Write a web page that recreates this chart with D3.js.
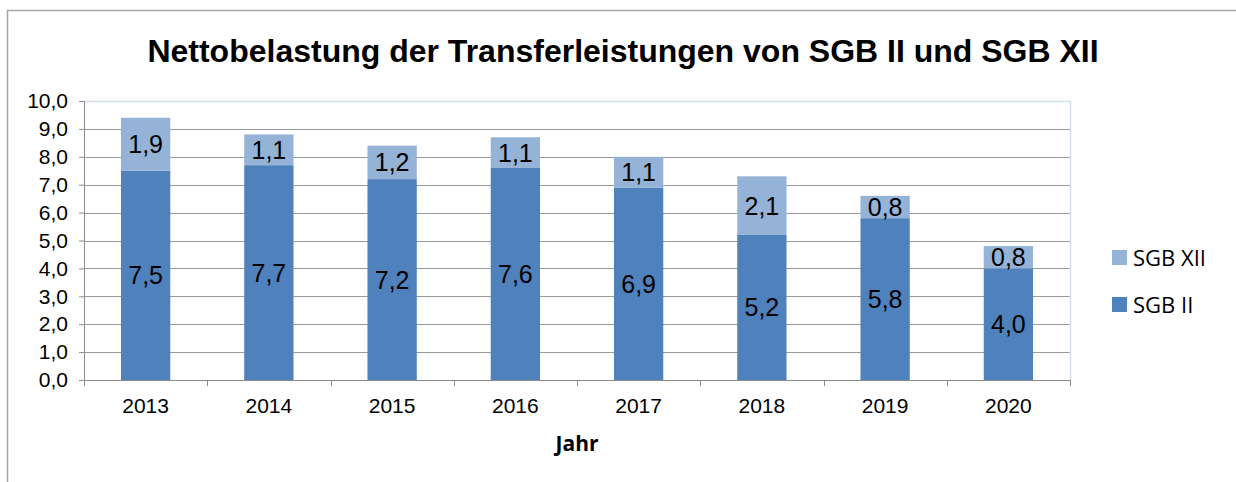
<!DOCTYPE html>
<html>
<head>
<meta charset="utf-8">
<script src="https://cdn.jsdelivr.net/npm/d3@7"></script>
<style>
  body { margin: 0; background: #fff; }
  text { font-family: "Liberation Sans", Arial, sans-serif; }
</style>
</head>
<body>
<div id="chart"></div>
<script>
// chart data
var years = ["2013", "2014", "2015", "2016", "2017", "2018", "2019", "2020"];
var sgbII = [7.5, 7.7, 7.2, 7.6, 6.9, 5.2, 5.8, 4.0];
var sgbXII = [1.9, 1.1, 1.2, 1.1, 1.1, 2.1, 0.8, 0.8];
var seriesNames = ["SGB II", "SGB XII"];
var yTicks = [0, 1, 2, 3, 4, 5, 6, 7, 8, 9, 10];

var svgWidth = 1236;
var svgHeight = 482;

var margin = { top: 101, left: 84, right: 166, bottom: 102 };
var chartWidth = svgWidth - margin.left - margin.right;
var chartHeight = svgHeight - margin.top - margin.bottom;

var colors = { "SGB II": "#4f81bd", "SGB XII": "#95b3d7" };

var svg = d3.select("#chart")
  .append("svg")
  .attr("width", svgWidth)
  .attr("height", svgHeight);

// outer frame
svg.append("rect")
  .attr("x", 7.5)
  .attr("y", 10.5)
  .attr("width", svgWidth)
  .attr("height", svgHeight)
  .attr("fill", "none")
  .attr("stroke", "#a6a6a6")
  .attr("stroke-width", 1.5);

// title
svg.append("text")
  .attr("x", 623)
  .attr("y", 62)
  .attr("text-anchor", "middle")
  .attr("font-size", "32px")
  .attr("font-weight", "bold")
  .text("Nettobelastung der Transferleistungen von SGB II und SGB XII");

var chartGroup = svg.append("g")
  .attr("transform", `translate(${margin.left}, ${margin.top})`);

// scales
var xScale = d3.scaleBand()
  .domain(years)
  .range([0, chartWidth])
  .paddingInner(0.6)
  .paddingOuter(0.3);

var yScale = d3.scaleLinear()
  .domain([0, 10])
  .range([chartHeight, 0]);

// gridlines
chartGroup.append("g")
  .selectAll("line")
  .data(yTicks.filter(d => d > 0 && d < 10))
  .enter()
  .append("line")
  .attr("x1", 0)
  .attr("x2", chartWidth)
  .attr("y1", d => Math.round(yScale(d)) + 0.5)
  .attr("y2", d => Math.round(yScale(d)) + 0.5)
  .attr("stroke", "#9a9a9a")
  .attr("stroke-width", 1);

// plot area border (top and right)
chartGroup.append("path")
  .attr("d", `M0,${yScale(10) + 0.5}H${chartWidth + 0.5}V${chartHeight}`)
  .attr("fill", "none")
  .attr("stroke", "#d4deee")
  .attr("stroke-width", 1.5);

// stacked data
var tableData = years.map(function(y, i) {
  return { year: y, "SGB II": sgbII[i], "SGB XII": sgbXII[i] };
});
var stack = d3.stack().keys(seriesNames);
var stacked = stack(tableData);

var fmt = function(v) { return d3.format(".1f")(v).replace(".", ","); };

stacked.forEach(function(layer) {
  var g = chartGroup.append("g");
  g.selectAll("rect")
    .data(layer)
    .enter()
    .append("rect")
    .attr("x", d => xScale(d.data.year))
    .attr("width", xScale.bandwidth())
    .attr("y", d => yScale(d[1]))
    .attr("height", d => yScale(d[0]) - yScale(d[1]))
    .attr("fill", colors[layer.key]);

  g.selectAll("text")
    .data(layer)
    .enter()
    .append("text")
    .attr("x", d => xScale(d.data.year) + xScale.bandwidth() / 2)
    .attr("y", d => (yScale(d[0]) + yScale(d[1])) / 2 + 9)
    .attr("text-anchor", "middle")
    .attr("font-size", "25px")
    .attr("fill", "#000")
    .text(d => fmt(d[1] - d[0]));
});

// y axis
var leftAxis = d3.axisLeft(yScale)
  .tickValues(yTicks)
  .tickSize(5)
  .tickPadding(11)
  .tickFormat(fmt);

var yAxis = chartGroup.append("g")
  .call(leftAxis);
yAxis.selectAll("text").attr("font-size", "21px").attr("fill", "#000");
yAxis.selectAll("line").attr("stroke", "#8c8c8c");
yAxis.select(".domain").attr("stroke", "#8c8c8c");

// x axis with ticks between categories
var xAxis = chartGroup.append("g")
  .attr("transform", `translate(0, ${chartHeight})`);
xAxis.append("line")
  .attr("x1", -5)
  .attr("x2", chartWidth)
  .attr("y1", 0.5)
  .attr("y2", 0.5)
  .attr("stroke", "#8c8c8c");
xAxis.selectAll(".tick")
  .data(d3.range(years.length + 1))
  .enter()
  .append("line")
  .attr("x1", d => Math.round(d * chartWidth / years.length) + 0.5)
  .attr("x2", d => Math.round(d * chartWidth / years.length) + 0.5)
  .attr("y1", 0)
  .attr("y2", 6)
  .attr("stroke", "#8c8c8c");
xAxis.selectAll("text")
  .data(years)
  .enter()
  .append("text")
  .attr("x", d => xScale(d) + xScale.bandwidth() / 2)
  .attr("y", 33)
  .attr("text-anchor", "middle")
  .attr("font-size", "21px")
  .text(d => d);

// x axis title
svg.append("text")
  .attr("x", 577)
  .attr("y", 451)
  .attr("text-anchor", "middle")
  .attr("font-size", "21px")
  .attr("font-weight", "bold")
  .style("font-family", "'Open Sans', 'Noto Sans', sans-serif")
  .text("Jahr");

// legend
var legendItems = ["SGB XII", "SGB II"];
var legend = svg.append("g")
  .attr("transform", "translate(1112, 250)");
legendItems.forEach(function(name, i) {
  legend.append("rect")
    .attr("x", 0)
    .attr("y", i * 47)
    .attr("width", 15)
    .attr("height", 15)
    .attr("fill", colors[name]);
  legend.append("text")
    .attr("x", 21)
    .attr("y", i * 47 + 16)
    .attr("font-size", "22px")
    .style("font-family", "'Open Sans', 'Noto Sans', sans-serif")
    .text(name);
});
</script>
</body>
</html>
